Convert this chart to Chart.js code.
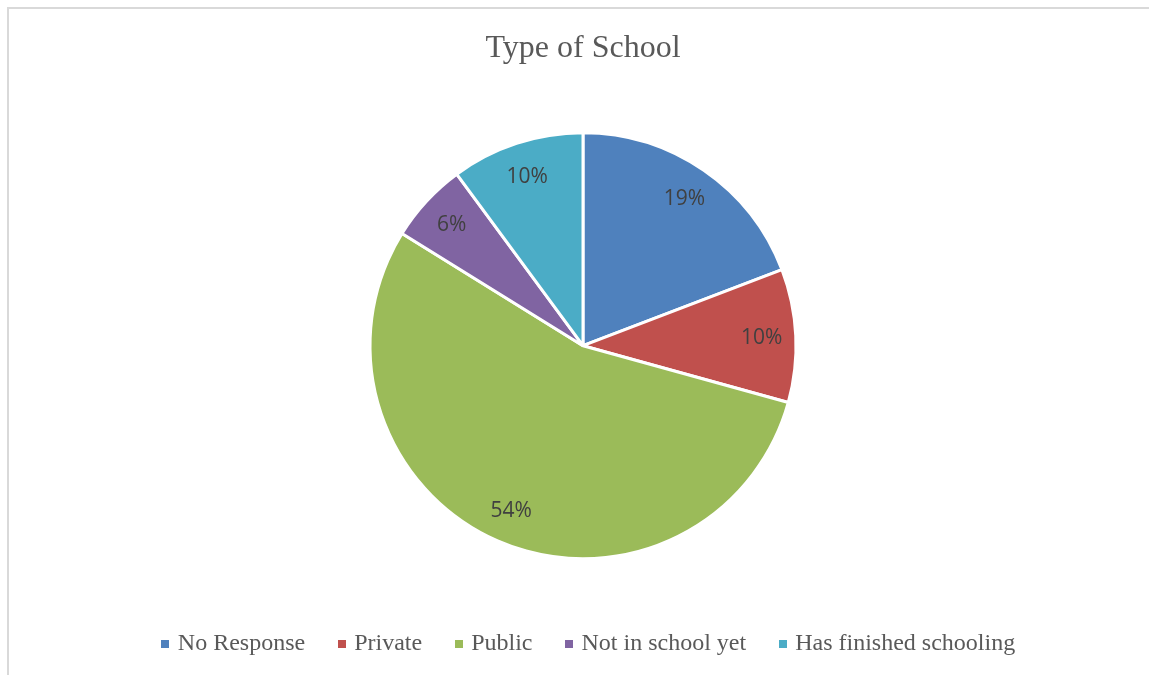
<!DOCTYPE html>
<html>
<head>
<meta charset="utf-8">
<title>Type of School</title>
<script src="https://cdn.jsdelivr.net/npm/chart.js@4"></script>
<style>
  html, body { margin: 0; padding: 0; background: #fff; overflow: hidden; }
  #frame {
    position: absolute; left: 7px; top: 7px;
    width: 1200px; height: 720px;
    border: 2px solid #d9d9d9;
  }
  #wrap { position: absolute; left: 0; top: 0; width: 1149px; height: 675px; }
</style>
</head>
<body>
<div id="frame"></div>
<div id="wrap"><canvas id="schoolChart" width="1149" height="675"></canvas></div>
<script>
// Dados do gráfico
const categories = ['No Response', 'Private', 'Public', 'Not in school yet', 'Has finished schooling'];
const percentages = [19, 10, 54, 6, 10];
const sliceColors = ['#4f81bd', '#c0504d', '#9bbb59', '#8064a2', '#4bacc6'];

// Quadradinhos da legenda (8x8)
function makeMarker(color) {
  const c = document.createElement('canvas');
  c.width = 8;
  c.height = 8;
  const g = c.getContext('2d');
  g.fillStyle = color;
  g.fillRect(0, 0, 8, 8);
  return c;
}
const markers = sliceColors.map(makeMarker);

// Rótulos de porcentagem dentro das fatias
const sliceLabels = {
  id: 'sliceLabels',
  afterDatasetsDraw(chart) {
    const ctx = chart.ctx;
    const meta = chart.getDatasetMeta(0);
    ctx.save();
    ctx.font = '21px "Open Sans", sans-serif';
    ctx.fillStyle = '#404040';
    ctx.textAlign = 'center';
    ctx.textBaseline = 'middle';
    meta.data.forEach((arc, i) => {
      const p = arc.getProps(['x', 'y', 'startAngle', 'endAngle', 'outerRadius'], true);
      const mid = (p.startAngle + p.endAngle) / 2;
      const r = p.outerRadius * 0.84;
      ctx.fillText(percentages[i] + '%', p.x + Math.cos(mid) * r, p.y + Math.sin(mid) * r + 1);
    });
    ctx.restore();
  }
};

// Empurra a legenda um pouco para a direita
const legendShift = {
  id: 'legendShift',
  afterUpdate(chart) {
    if (chart.legend) {
      chart.legend.left += 7;
      chart.legend.right += 7;
    }
  }
};

const ctx = document.getElementById('schoolChart').getContext('2d');

new Chart(ctx, {
  type: 'pie',
  data: {
    labels: categories,
    datasets: [{
      data: percentages,
      backgroundColor: sliceColors,
      borderColor: '#ffffff',
      borderWidth: 3,
      hoverOffset: 0
    }]
  },
  options: {
    responsive: false,
    animation: false,
    events: [],
    radius: 213,
    layout: { padding: { left: 17, right: 0, top: 0, bottom: 9 } },
    plugins: {
      title: {
        display: true,
        text: 'Type of School',
        color: '#595959',
        font: { family: '"Liberation Serif", "Times New Roman", serif', size: 32, weight: 'normal' },
        padding: { top: 29, bottom: 28 }
      },
      legend: {
        position: 'bottom',
        labels: {
          usePointStyle: true,
          pointStyleWidth: 1,
          boxHeight: 8,
          padding: 36,
          color: '#595959',
          font: { family: '"Liberation Serif", "Times New Roman", serif', size: 24 },
          generateLabels(chart) {
            const items = Chart.overrides.pie.plugins.legend.labels.generateLabels(chart);
            return items.map((item, i) => ({ ...item, pointStyle: markers[i] }));
          }
        }
      },
      tooltip: { enabled: false }
    }
  },
  plugins: [sliceLabels, legendShift]
});
</script>
</body>
</html>
